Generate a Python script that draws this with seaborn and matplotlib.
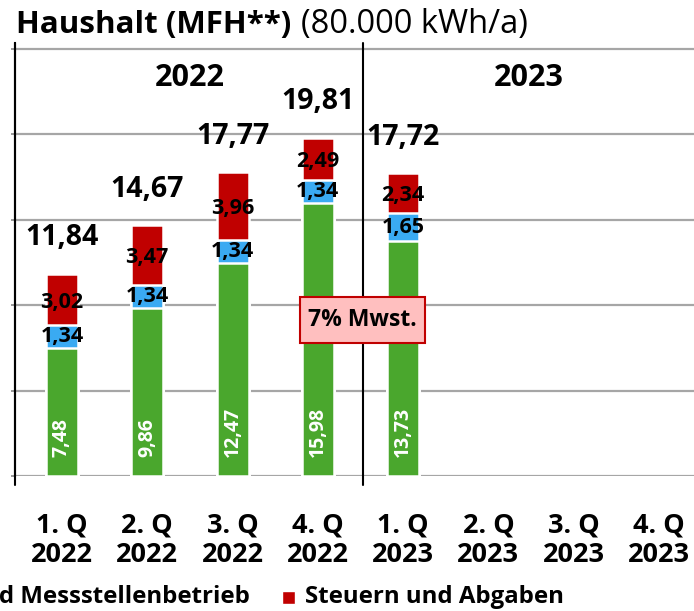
import numpy as np
import pandas as pd
import matplotlib
matplotlib.use("Agg")
import matplotlib.pyplot as plt
from matplotlib.patches import Rectangle
import seaborn as sns

# ---- data ----
quarters = ["1. Q\n2022", "2. Q\n2022", "3. Q\n2022", "4. Q\n2022",
            "1. Q\n2023", "2. Q\n2023", "3. Q\n2023", "4. Q\n2023"]
energie = [7.48, 9.86, 12.47, 15.98, 13.73, np.nan, np.nan, np.nan]
netz = [1.34, 1.34, 1.34, 1.34, 1.65, np.nan, np.nan, np.nan]
steuern = [3.02, 3.47, 3.96, 2.49, 2.34, np.nan, np.nan, np.nan]
totals = [11.84, 14.67, 17.77, 19.81, 17.72, np.nan, np.nan, np.nan]
year_labels = ["2022", "2023"]
legend_labels = ["Energiebeschaffung und Vertrieb", "Netzentgelte und Messstellenbetrieb", "Steuern und Abgaben"]

GREEN = "#4AA72D"
BLUE = "#3AAAF2"
RED = "#C00000"
FONT = ["Open Sans", "DejaVu Sans"]

sns.set_theme(style="white")
plt.rcParams["font.family"] = FONT
plt.rcParams["text.color"] = "black"
plt.rcParams["xtick.color"] = "black"

df = pd.DataFrame({
    "q": quarters,
    "e": energie,
    "en": np.array(energie) + np.array(netz),
    "all": np.array(energie) + np.array(netz) + np.array(steuern),
})

W, H = 694, 611
fig = plt.figure(figsize=(W / 100, H / 100), dpi=100)
x0, x1 = -0.55, 7.5
px_per_cat = 85.3
left_px = 15
ax_w = (x1 - x0) * px_per_cat
y_top = 25.35
base_px = 476
ppu = 17.08
top_px = base_px - y_top * ppu
ax = fig.add_axes([left_px / W, (H - base_px) / H, ax_w / W, (base_px - top_px) / H])

kw = dict(order=quarters, width=0.375, linewidth=1.8, edgecolor="white", ax=ax, zorder=2)
sns.barplot(data=df, x="q", y="all", color=RED, saturation=1, **kw)
sns.barplot(data=df, x="q", y="en", color=BLUE, saturation=1, **kw)
sns.barplot(data=df, x="q", y="e", color=GREEN, saturation=1, **kw)

ax.set_xlim(x0, x1)
ax.set_ylim(0, y_top)
ax.set_yticks([0, 5, 10, 15, 20, 25])
ax.set_yticklabels([])
ax.yaxis.grid(True, color="#A6A6A6", linewidth=1.6, zorder=0)
ax.set_axisbelow(True)
ax.set_xlabel("")
ax.set_ylabel("")
for s in ["top", "right", "bottom"]:
    ax.spines[s].set_visible(False)
ax.spines["left"].set_color("black")
ax.spines["left"].set_linewidth(1.5)
ax.tick_params(axis="y", left=True, length=3, width=1.2, color="#888888", direction="out")
ax.tick_params(axis="x", bottom=False, pad=20)
ax.set_xticks(range(len(quarters)))
ax.set_xticklabels(quarters, fontsize=19.5, fontweight="bold", color="black", linespacing=1.2)

ax.plot([x0, x0], [-0.5, y_top], color="black", lw=1.5, clip_on=False, zorder=3)
ax.plot([3.535, 3.535], [-0.5, y_top], color="black", lw=1.5, clip_on=False, zorder=3)

fmt = lambda v: f"{v:.2f}".replace(".", ",")
for i, q in enumerate(quarters):
    if np.isnan(totals[i]):
        continue
    e, n, s = energie[i], netz[i], steuern[i]
    ax.text(i, 1.1, fmt(e), rotation=90, ha="center", va="bottom", color="white",
            fontsize=14, fontweight="bold", zorder=4)
    ax.text(i, e + n / 2, fmt(n), ha="center", va="center", color="black",
            fontsize=15.5, fontweight="bold", zorder=4)
    ax.text(i, e + n + s / 2 - 0.15, fmt(s), ha="center", va="center", color="black",
            fontsize=15.5, fontweight="bold", zorder=4)
    ax.annotate(fmt(totals[i]), (i, totals[i]), xytext=(0, 36), textcoords="offset pixels",
                ha="center", va="center", fontsize=20.5, fontweight="bold", color="black")

ax.text(1.5, 23.3, year_labels[0], ha="center", va="center", fontsize=22, fontweight="bold")
ax.text(5.47, 23.3, year_labels[1], ha="center", va="center", fontsize=22, fontweight="bold")

ax.add_patch(Rectangle((2.79, 7.8), 1.47, 2.67, facecolor="#FFBFBF", edgecolor="#C00000",
                       linewidth=1.5, zorder=5))
ax.text(3.525, 9.13, "7% Mwst.", ha="center", va="center", fontsize=16.5, fontweight="bold", zorder=6)

t1 = fig.text(16 / W, 1 - 25 / H, "Haushalt (MFH**)", fontsize=22.5, fontweight="bold", va="center", ha="left")
fig.canvas.draw()
bb = t1.get_window_extent()
fig.text(bb.x1 / W + 10 / W, 1 - 25 / H, "(80.000 kWh/a)", fontsize=23.5, va="center", ha="left")

ly = 1 - 597 / H
fig.text(250 / W, ly, legend_labels[1], ha="right", va="center", fontsize=17.3, fontweight="bold")
fig.patches.append(Rectangle((-400 / W, ly - 6.5 / H), 13 / W, 13 / H, facecolor=BLUE,
                             transform=fig.transFigure, figure=fig))
fig.patches.append(Rectangle((282 / W, ly - 6.5 / H), 13 / W, 13 / H, facecolor=RED,
                             transform=fig.transFigure, figure=fig))
fig.text(305 / W, ly, legend_labels[2], ha="left", va="center", fontsize=17.3, fontweight="bold")

fig.savefig("out.png", dpi=100)
